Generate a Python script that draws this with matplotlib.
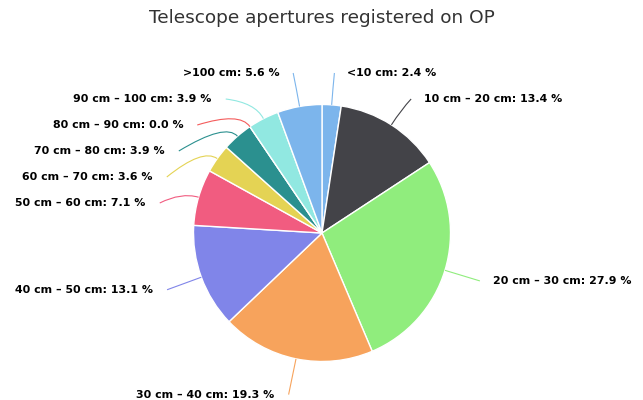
import numpy as np
import matplotlib
matplotlib.use("Agg")
import matplotlib.pyplot as plt
from matplotlib.path import Path
from matplotlib.patches import PathPatch

categories = ["<10 cm", "10 cm – 20 cm", "20 cm – 30 cm", "30 cm – 40 cm",
              "40 cm – 50 cm", "50 cm – 60 cm", "60 cm – 70 cm", "70 cm – 80 cm",
              "80 cm – 90 cm", "90 cm – 100 cm", ">100 cm"]
values = [2.4, 13.4, 27.9, 19.3, 13.1, 7.1, 3.6, 3.9, 0.0, 3.9, 5.6]
colors = ["#7cb5ec", "#434348", "#90ed7d", "#f7a35c", "#8085e9", "#f15c80",
          "#e4d354", "#2b908f", "#f45b5b", "#91e8e1", "#7cb5ec"]
title = "Telescope apertures registered on OP"

W, H = 643, 400
fig = plt.figure(figsize=(W / 100, H / 100), dpi=100)
ax = fig.add_axes([0, 0, 1, 1])

cx, cy_pix, r = 322, 233, 128.5
cy = H - cy_pix

ax.pie(values, colors=colors, startangle=90, counterclock=False,
       center=(cx, cy), radius=r,
       wedgeprops=dict(edgecolor="white", linewidth=1))
ax.set_xlim(0, W)
ax.set_ylim(0, H)
ax.set_aspect("auto")
ax.axis("off")

# label layout (pixel coordinates, y down)
total = float(sum(values))
cum = np.cumsum([0] + values)
mids = [(cum[i] + cum[i + 1]) / 2 / total * 2 * np.pi for i in range(len(values))]
R_lab = r + 36.5
spacing = 26
ymin = 73

label_y = [None] * len(values)
natural_y = [cy_pix - R_lab * np.cos(m) for m in mids]
for side in ("right", "left"):
    idx = [i for i in range(len(values))
           if (np.sin(mids[i]) >= 0) == (side == "right")]
    idx.sort(key=lambda i: natural_y[i])
    prev = None
    for i in idx:
        y = max(natural_y[i], ymin)
        if prev is not None:
            y = max(y, prev + spacing)
        label_y[i] = y
        prev = y

for i, (cat, v) in enumerate(zip(categories, values)):
    th = mids[i]
    right = np.sin(th) >= 0
    y = label_y[i]
    dy = y - cy_pix
    if abs(y - natural_y[i]) < 6:
        ex = cx + R_lab * np.sin(th)
    else:
        dx = np.sqrt(max(R_lab ** 2 - dy ** 2, 0))
        ex = cx + dx if right else cx - dx
    # connector
    sx = cx + r * np.sin(th)
    sy = cy_pix - r * np.cos(th)
    kx = cx + (r + 18) * np.sin(th)
    ky = cy_pix - (r + 18) * np.cos(th)
    verts = [(sx, H - sy), (kx, H - ky), (ex, H - y)]
    path = Path(verts, [Path.MOVETO, Path.CURVE3, Path.CURVE3])
    ax.add_patch(PathPatch(path, facecolor="none", edgecolor=colors[i], lw=0.8))
    pad = 13 if right else 14
    tx = ex + pad if right else ex - pad
    ax.text(tx, H - y, f"{cat}: {v:.1f} %", ha="left" if right else "right",
            va="center", fontsize=7.9, fontweight="bold", color="#000000",
            family="DejaVu Sans")

ax.text(322, H - 18, title, ha="center", va="center", fontsize=13.3,
        color="#333333", family="DejaVu Sans")

fig.savefig("out.png", dpi=100, facecolor="white")
